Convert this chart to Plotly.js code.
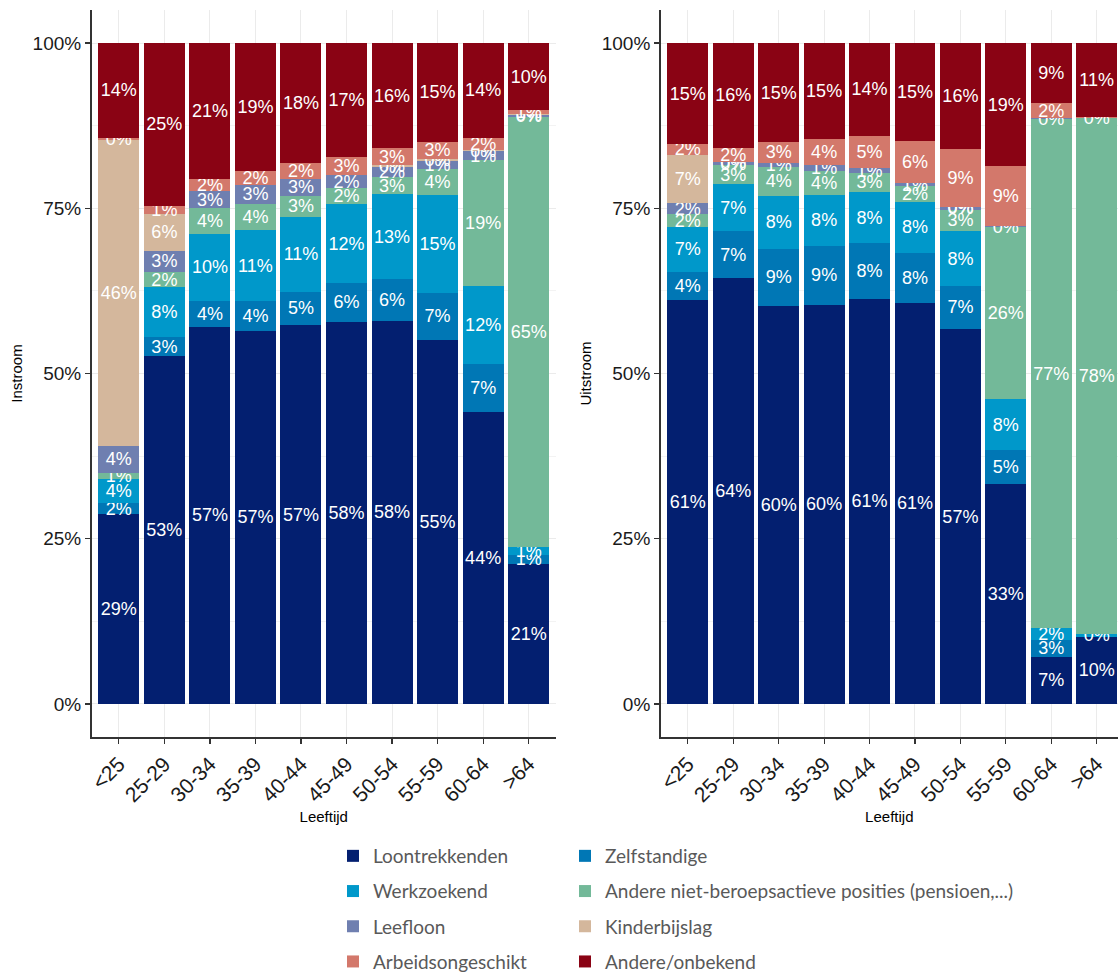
<!DOCTYPE html>
<html>
<head>
<meta charset="utf-8">
<script src="https://cdn.plot.ly/plotly-3.0.1.min.js"></script>
<style>html,body{margin:0;padding:0;background:#fff;}#chart{width:1118px;height:977px;}</style>
</head>
<body>
<div id="chart"></div>
<script>
// Categories
var ages = ['<25','25-29','30-34','35-39','40-44','45-49','50-54','55-59','60-64','>64'];

// Series names (stack order bottom -> top)
var seriesNames = ['Loontrekkenden','Zelfstandige','Werkzoekend','Andere niet-beroepsactieve posities (pensioen,...)','Leefloon','Kinderbijslag','Arbeidsongeschikt','Andere/onbekend'];
var seriesColors = ['#031F70','#0077B5','#0098CA','#73B999','#6F7FB0','#D4B79C','#D3786B','#8A0314'];

// Instroom (%)
var loonIn  = [28.7, 52.6, 57.1, 56.5, 57.3, 57.8, 58.0, 55.1, 44.2, 21.2];
var zelfIn  = [1.7, 2.9, 3.9, 4.4, 5.1, 5.9, 6.3, 7.1, 7.2, 1.4];
var werkIn  = [3.6, 7.6, 10.1, 10.8, 11.3, 11.9, 12.8, 14.8, 11.8, 1.2];
var andNbIn = [0.9, 2.2, 3.9, 4.0, 3.2, 2.4, 2.6, 3.9, 19.1, 65.0];
var leefIn  = [4.2, 3.3, 2.6, 2.8, 2.6, 2.1, 1.6, 1.3, 1.3, 0.3];
var kindIn  = [46.2, 5.5, null, null, null, null, 0.2, 0.3, 0.2, 0.1];
var arbIn   = [0.4, 1.3, 1.8, 2.1, 2.4, 2.6, 2.6, 2.6, 1.9, 0.6];
var andIn   = [14.3, 24.6, 20.6, 19.4, 18.1, 17.3, 15.9, 14.9, 14.3, 10.2];

// Uitstroom (%)
var loonOut  = [61.1, 64.4, 60.2, 60.4, 61.3, 60.7, 56.7, 33.3, 7.1, 10.2];
var zelfOut  = [4.3, 7.1, 8.7, 8.9, 8.4, 7.6, 6.6, 5.1, 2.6, null];
var werkOut  = [6.8, 7.1, 8.0, 7.7, 7.8, 7.7, 8.2, 7.7, 1.8, 0.4];
var andNbOut = [1.9, 2.9, 4.4, 3.7, 2.8, 2.3, 3.3, 26.0, 77.0, 78.0];
var leefOut  = [1.7, 0.45, 0.6, 0.85, 0.75, 0.55, 0.35, 0.2, 0.1, null];
var kindOut  = [7.3, 0.1, null, null, null, null, 0.1, null, null, null];
var arbOut   = [1.6, 2.1, 3.1, 3.9, 4.9, 6.3, 8.7, 9.1, 2.3, 0.2];
var andOut   = [15.3, 15.9, 15.0, 14.6, 14.1, 14.9, 16.1, 18.6, 9.1, 11.2];

var yTicks = [0, 25, 50, 75, 100];

var inSeries  = [loonIn, zelfIn, werkIn, andNbIn, leefIn, kindIn, arbIn, andIn];
var outSeries = [loonOut, zelfOut, werkOut, andNbOut, leefOut, kindOut, arbOut, andOut];
// legend column assignment: left column = Loon, Werk, Leefloon, Arbeid
var legendOf = ['legend','legend2','legend','legend2','legend','legend2','legend','legend2'];

function labels(arr){ return arr.map(function(v){ return v == null ? '' : Math.round(v) + '%'; }); }

var traces = [];
function addSet(series, xa, ya, show){
  series.forEach(function(vals, i){
    traces.push({
      type: 'bar', x: ages, y: vals, xaxis: xa, yaxis: ya,
      name: seriesNames[i], legendgroup: 'g' + i, legend: legendOf[i], showlegend: show,
      marker: {color: seriesColors[i], line: {width: 0}},
      text: labels(vals), textposition: 'inside', insidetextanchor: 'middle',
      constraintext: 'none', textangle: 0, cliponaxis: false,
      textfont: {family: 'Liberation Sans, Arial, sans-serif', size: 18, color: '#ffffff'},
      hoverinfo: 'skip'
    });
  });
}
addSet(inSeries, 'x', 'y', true);
addSet(outSeries, 'x2', 'y2', false);

var W = 1118, H = 977;
var yDom = [1 - 737/H, 1 - 10/H];
var xTickFont = {family: 'Liberation Sans, Arial, sans-serif', size: 21, color: '#1a1a1a'};
var yTickFont = {family: 'Liberation Sans, Arial, sans-serif', size: 19, color: '#1a1a1a'};
var titleFont = {family: 'Liberation Sans, Arial, sans-serif', size: 15, color: '#000'};

function xAxis(dom, rng, anchor){
  return {domain: dom, anchor: anchor, type: 'category', range: rng, automargin: false,
    showline: true, linecolor: '#333', linewidth: 1.5, ticks: 'outside', ticklen: 5, tickcolor: '#333', tickwidth: 1.2,
    tickangle: -45, tickfont: xTickFont, showgrid: true, gridcolor: '#ebebeb', gridwidth: 1, zeroline: false,
    title: {text: 'Leeftijd', font: titleFont}};
}
function yAxis(anchor, title){
  return {domain: yDom, anchor: anchor, range: [-5, 105], automargin: false, tickvals: yTicks, ticktext: yTicks.map(function(t){return t + '%';}),
    showline: true, linecolor: '#333', linewidth: 1.5, ticks: 'outside', ticklen: 5, tickcolor: '#333', tickwidth: 1.2,
    tickfont: yTickFont, showgrid: true, gridcolor: '#ebebeb', gridwidth: 1, zeroline: false,
    minor: {dtick: 12.5, tick0: 0, showgrid: true, gridcolor: '#f3f3f3', gridwidth: 1, ticks: ''},
    title: {text: title, font: titleFont, standoff: 6}};
}
var legFont = {family: 'Lato, Open Sans, sans-serif', size: 19, color: '#595959'};
var layout = {
  width: W, height: H, margin: {l: 0, r: 0, t: 0, b: 0, autoexpand: false},
  paper_bgcolor: '#fff', plot_bgcolor: '#fff',
  barmode: 'stack', bargap: 0.1,
  xaxis: xAxis([91.5/W, 556/W], [-0.6, 9.6], 'y'),
  yaxis: yAxis('x', 'Instroom'),
  xaxis2: xAxis([660.6/W, 1], [-0.6, 9.47], 'y2'),
  yaxis2: yAxis('x2', 'Uitstroom'),
  legend: {x: 333/W, y: 1 - 837/H, xanchor: 'left', yanchor: 'top', orientation: 'v', font: legFont,
    traceorder: 'grouped', tracegroupgap: 7.5, bgcolor: 'rgba(0,0,0,0)', itemclick: false},
  legend2: {x: 565/W, y: 1 - 837/H, xanchor: 'left', yanchor: 'top', orientation: 'v', font: legFont,
    traceorder: 'grouped', tracegroupgap: 7.5, bgcolor: 'rgba(0,0,0,0)', itemclick: false},
  font: {family: 'Liberation Sans, Arial, sans-serif'}
};
Plotly.newPlot('chart', traces, layout, {displayModeBar: false, staticPlot: true});
</script>
</body>
</html>
